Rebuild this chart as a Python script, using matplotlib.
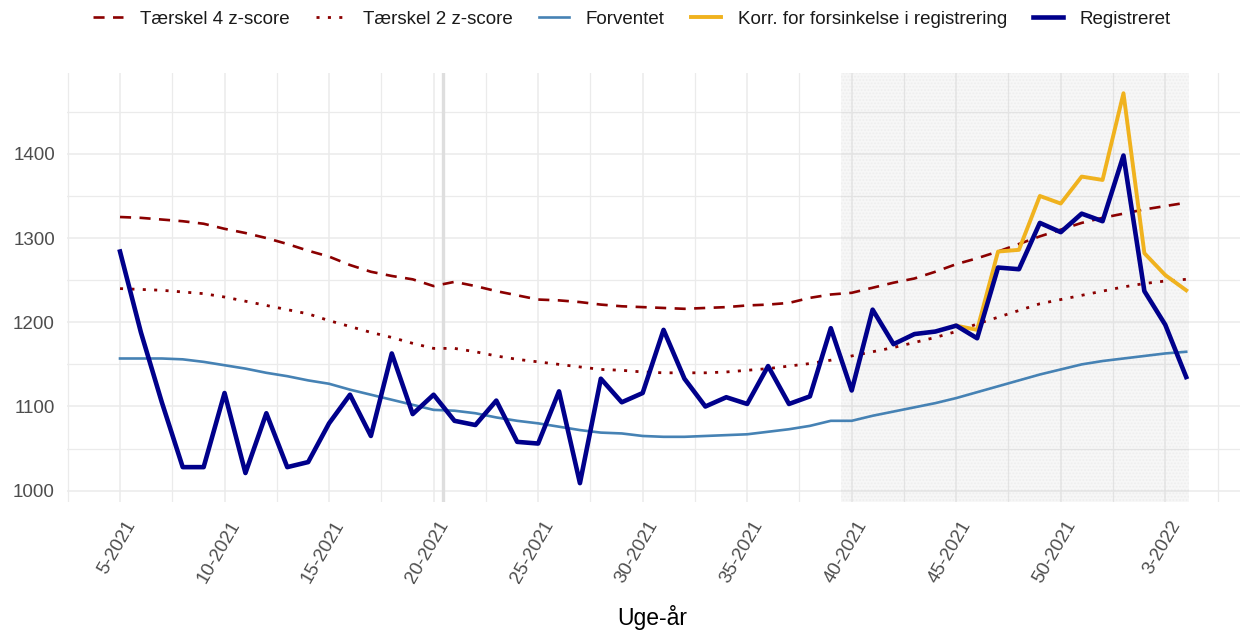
import numpy as np
import matplotlib
matplotlib.use("Agg")
import matplotlib.pyplot as plt
from matplotlib.lines import Line2D
from matplotlib.transforms import ScaledTranslation

plt.rcParams['font.family'] = ['Liberation Sans', 'DejaVu Sans']

# uge-aar: uge 5-2021 .. uge 4-2022
uger = [f"{u}-2021" for u in range(5, 53)] + [f"{u}-2022" for u in range(1, 5)]
tick_uger = ["5-2021", "10-2021", "15-2021", "20-2021", "25-2021", "30-2021",
             "35-2021", "40-2021", "45-2021", "50-2021", "3-2022"]

registreret = [1284, 1188, 1105, 1028, 1028, 1116, 1021, 1092, 1028, 1034,
               1080, 1114, 1065, 1163, 1091, 1114, 1083, 1078, 1107, 1058,
               1056, 1118, 1009, 1133, 1105, 1116, 1191, 1133, 1100, 1111,
               1103, 1148, 1103, 1112, 1193, 1119, 1215, 1174, 1186, 1189,
               1196, 1181, 1265, 1263, 1318, 1307, 1329, 1320, 1398, 1237,
               1197, 1135]

korr = [np.nan] * 40 + [1196, 1191, 1284, 1286, 1350, 1341, 1373, 1369, 1472,
                        1282, 1256, 1238]

forventet = [1157, 1157, 1157, 1156, 1153, 1149, 1145, 1140, 1136, 1131,
             1127, 1120, 1114, 1108, 1102, 1096, 1095, 1092, 1087, 1083,
             1080, 1076, 1072, 1069, 1068, 1065, 1064, 1064, 1065, 1066,
             1067, 1070, 1073, 1077, 1083, 1083, 1089, 1094, 1099, 1104,
             1110, 1117, 1124, 1131, 1138, 1144, 1150, 1154, 1157, 1160,
             1163, 1165]

taerskel4 = [1325, 1324, 1322, 1320, 1317, 1311, 1306, 1300, 1293, 1285,
             1278, 1268, 1260, 1255, 1251, 1243, 1248, 1243, 1237, 1232,
             1227, 1226, 1224, 1221, 1219, 1218, 1217, 1216, 1217, 1218,
             1220, 1221, 1223, 1229, 1233, 1235, 1241, 1247, 1252, 1260,
             1269, 1276, 1284, 1293, 1302, 1310, 1318, 1324, 1329, 1334,
             1338, 1342]

taerskel2 = [1240, 1239, 1238, 1236, 1234, 1230, 1225, 1220, 1215, 1210,
             1202, 1195, 1188, 1182, 1175, 1169, 1169, 1165, 1160, 1156,
             1153, 1150, 1147, 1144, 1143, 1141, 1140, 1140, 1140, 1141,
             1143, 1145, 1148, 1151, 1155, 1160, 1165, 1170, 1176, 1182,
             1189, 1198, 1206, 1214, 1222, 1227, 1232, 1237, 1242, 1246,
             1249, 1251]

x = np.arange(len(uger))
tick_pos = [uger.index(u) for u in tick_uger]

W, H = 1243, 634
fig = plt.figure(figsize=(W / 100, H / 100), dpi=100)
ax = fig.add_axes([66.7 / W, 1 - 502 / H, (1239.5 - 66.7) / W, (502 - 73) / H])

# grid (theme_minimal)
ax.set_xlim(-2.55, 53.55)
ax.set_ylim(986.6, 1496)
ax.set_xticks(tick_pos)
ax.set_xticks(np.arange(-2.5, 54, 5), minor=True)
ax.set_yticks([1000, 1100, 1200, 1300, 1400])
ax.set_yticks([1050, 1150, 1250, 1350, 1450], minor=True)
ax.grid(True, which='major', color='#ebebeb', lw=1.1)
ax.grid(True, which='minor', color='#ebebeb', lw=0.9)
ax.set_axisbelow(True)
for s in ax.spines.values():
    s.set_visible(False)

# skraveret periode
ax.axvspan(34.5, 51.15, facecolor='#7f7f7f', alpha=0.06, lw=0, zorder=1)
ax.axvspan(34.5, 51.15, facecolor='none', edgecolor='#d8d8d8', hatch='.....',
           lw=0, alpha=0.25, zorder=1)
ax.axvline(15.45, color='#dedede', lw=2.4, zorder=1)

ax.plot(x, forventet, color='#4682B4', lw=1.9, zorder=2)
ax.plot(x, taerskel4, color='#8B0000', lw=1.9, dashes=(4.2, 3.2), zorder=3)
ax.plot(x, taerskel2, color='#8B0000', lw=2.0, dashes=(1.1, 3.0), zorder=3)
ax.plot(x, korr, color='#F0B21E', lw=2.8, zorder=4)
ax.plot(x, registreret, color='#00008B', lw=3.3, zorder=5)

ax.tick_params(axis='both', which='both', length=0, labelsize=13.5,
               labelcolor='#4d4d4d')
ax.tick_params(axis='y', pad=8.5)
ax.tick_params(axis='x', pad=14.4)
ax.set_xticklabels(tick_uger, rotation=60, ha='right', va='center',
                   rotation_mode='anchor')
off = ScaledTranslation(11.5 / 100, 0, fig.dpi_scale_trans)
for lbl in ax.get_xticklabels():
    lbl.set_transform(lbl.get_transform() + off)

fig.text(652 / W, 1 - 618 / H, 'Uge-år', ha='center', va='center',
         fontsize=16.5, color='black')

handles = [
    Line2D([], [], color='#8B0000', lw=1.9, dashes=(4.2, 3.2)),
    Line2D([], [], color='#8B0000', lw=2.0, dashes=(1.1, 3.0)),
    Line2D([], [], color='#4682B4', lw=1.9),
    Line2D([], [], color='#F0B21E', lw=2.8),
    Line2D([], [], color='#00008B', lw=3.3),
]
labels = ['Tærskel 4 z-score', 'Tærskel 2 z-score', 'Forventet',
          'Korr. for forsinkelse i registrering', 'Registreret']
fig.legend(handles, labels, loc='center', bbox_to_anchor=(632 / W, 1 - 19 / H),
           ncol=5, frameon=False, fontsize=13.5, handlelength=1.6,
           handletextpad=0.9, columnspacing=1.4, labelcolor='#1a1a1a')

fig.savefig('out.png', dpi=100)
